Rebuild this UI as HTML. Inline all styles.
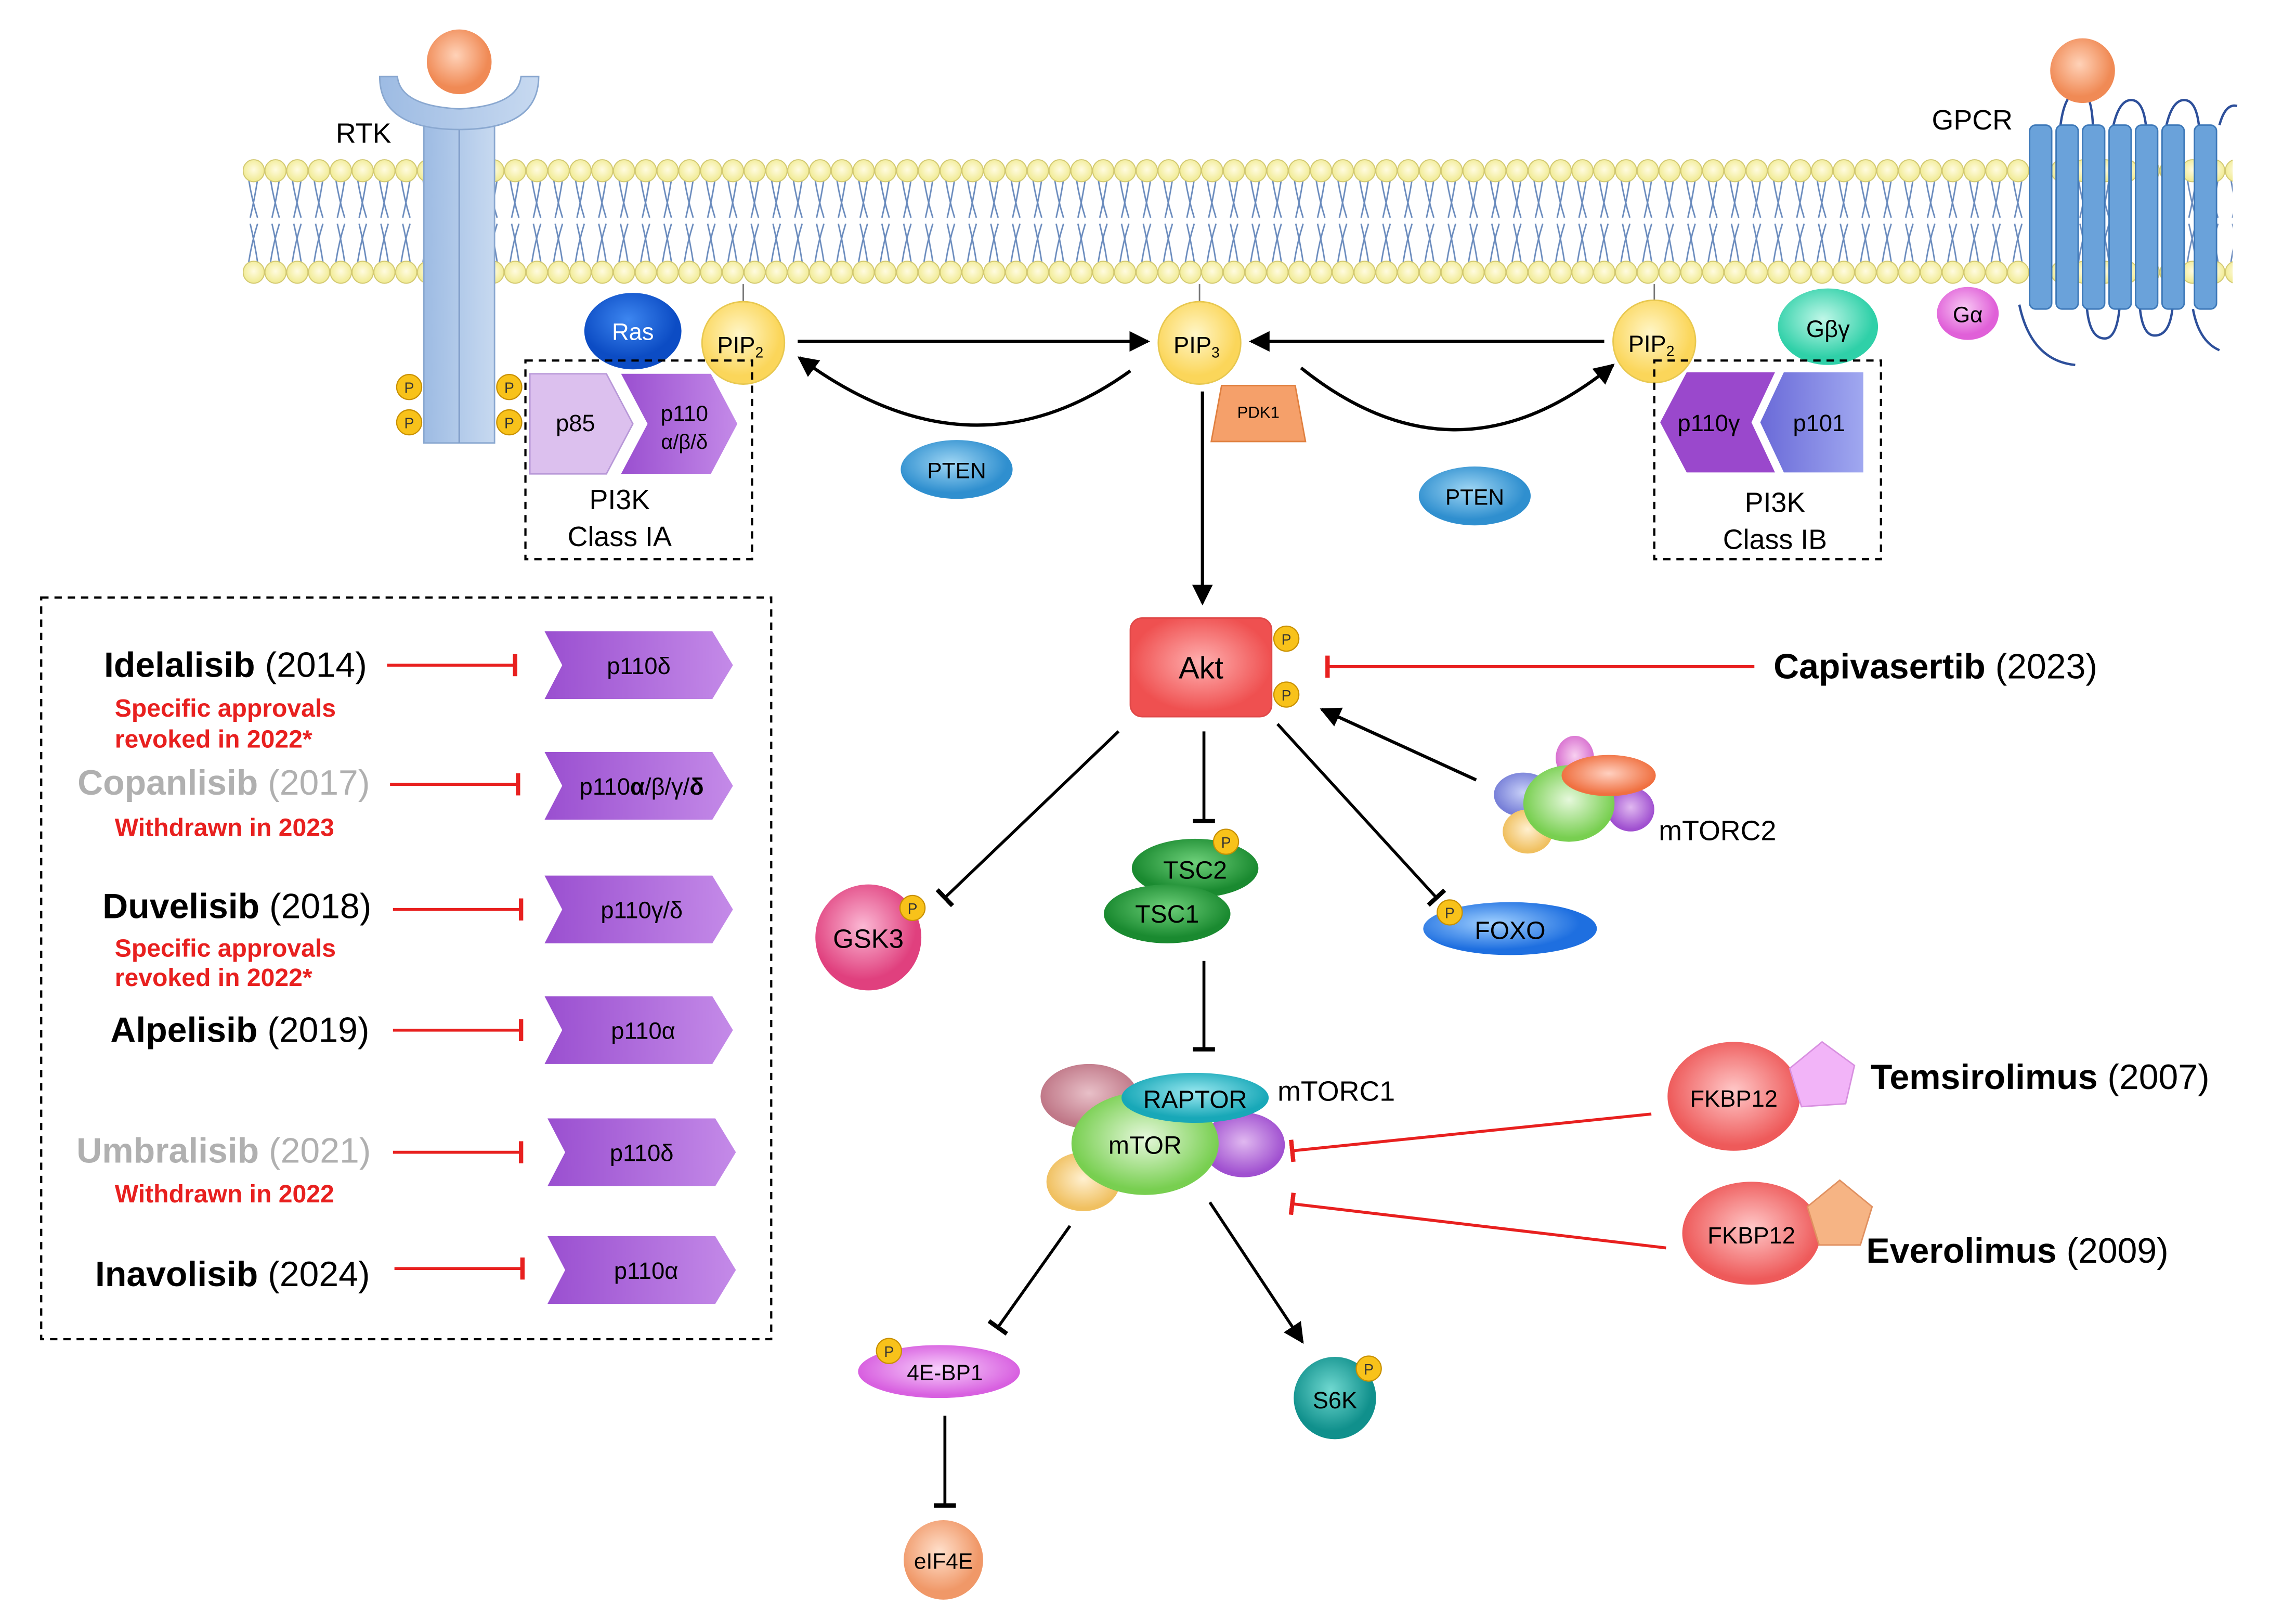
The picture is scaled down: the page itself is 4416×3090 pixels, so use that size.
<!DOCTYPE html>
<html><head><meta charset="utf-8"><style>
html,body{margin:0;padding:0;background:#fff;}
svg{display:block;}
text{font-family:"Liberation Sans",Arial,sans-serif;}
</style></head><body>
<svg width="4416" height="3090" viewBox="0 0 1560 1092" preserveAspectRatio="none" xmlns="http://www.w3.org/2000/svg">
<defs>
<radialGradient id="yh" cx="50%" cy="45%" r="60%"><stop offset="0" stop-color="#fffbe0"/><stop offset="1" stop-color="#efe98a"/></radialGradient>
<pattern id="lip" patternUnits="userSpaceOnUse" x="165" y="100" width="14.8" height="100">
<path d="M4,22 Q6,35 10,48 M10,22 Q8,35 5,48 M4,78 Q6,65 10,52 M10,78 Q8,65 5,52" stroke="#6a8bbd" stroke-width="1" fill="none"/>
<ellipse cx="7.4" cy="16" rx="7.2" ry="7.5" fill="url(#yh)" stroke="#d2c870" stroke-width="0.7"/>
<ellipse cx="7.4" cy="85" rx="7.2" ry="7.5" fill="url(#yh)" stroke="#d2c870" stroke-width="0.7"/>
</pattern>
<linearGradient id="rtk" x1="0" x2="1"><stop offset="0" stop-color="#9dbbe3"/><stop offset="1" stop-color="#c7d9f0"/></linearGradient>
<radialGradient id="org" cx="45%" cy="40%"><stop offset="0" stop-color="#ffd2b8"/><stop offset="1" stop-color="#f08a55"/></radialGradient>
<radialGradient id="pip" cx="45%" cy="40%"><stop offset="0" stop-color="#fff6c8"/><stop offset="1" stop-color="#fbd65a"/></radialGradient>
<radialGradient id="ras" cx="45%" cy="35%"><stop offset="0" stop-color="#3d86f0"/><stop offset="1" stop-color="#0c4cc4"/></radialGradient>
<radialGradient id="pten" cx="45%" cy="40%"><stop offset="0" stop-color="#9fd6f4"/><stop offset="1" stop-color="#2f8fcf"/></radialGradient>
<radialGradient id="gbg" cx="45%" cy="40%"><stop offset="0" stop-color="#c0f7e8"/><stop offset="1" stop-color="#2fd0a8"/></radialGradient>
<radialGradient id="ga" cx="45%" cy="40%"><stop offset="0" stop-color="#f8c8f4"/><stop offset="1" stop-color="#e060d8"/></radialGradient>
<radialGradient id="akt" cx="50%" cy="45%"><stop offset="0" stop-color="#ffb0b0"/><stop offset="1" stop-color="#ef5050"/></radialGradient>
<radialGradient id="gsk" cx="45%" cy="40%"><stop offset="0" stop-color="#fbb8d4"/><stop offset="1" stop-color="#e0407e"/></radialGradient>
<radialGradient id="tsc" cx="50%" cy="40%"><stop offset="0" stop-color="#6ed07a"/><stop offset="1" stop-color="#1a8a30"/></radialGradient>
<radialGradient id="foxo" cx="40%" cy="40%"><stop offset="0" stop-color="#a0d0ff"/><stop offset="1" stop-color="#1e6fe0"/></radialGradient>
<radialGradient id="grn" cx="50%" cy="45%"><stop offset="0" stop-color="#e6f8dc"/><stop offset="1" stop-color="#78cf50"/></radialGradient>
<radialGradient id="rap" cx="50%" cy="40%"><stop offset="0" stop-color="#9ae8f0"/><stop offset="1" stop-color="#18a8b8"/></radialGradient>
<radialGradient id="pur" cx="50%" cy="45%"><stop offset="0" stop-color="#e0b8f0"/><stop offset="1" stop-color="#a050d0"/></radialGradient>
<radialGradient id="yel" cx="50%" cy="45%"><stop offset="0" stop-color="#fff0d0"/><stop offset="1" stop-color="#f0c060"/></radialGradient>
<radialGradient id="mau" cx="50%" cy="45%"><stop offset="0" stop-color="#e8c0c8"/><stop offset="1" stop-color="#c07888"/></radialGradient>
<radialGradient id="blu" cx="50%" cy="45%"><stop offset="0" stop-color="#c8d0f8"/><stop offset="1" stop-color="#7880d8"/></radialGradient>
<radialGradient id="orr" cx="50%" cy="45%"><stop offset="0" stop-color="#ffd0c0"/><stop offset="1" stop-color="#f07040"/></radialGradient>
<radialGradient id="pnk" cx="50%" cy="45%"><stop offset="0" stop-color="#f8d0f0"/><stop offset="1" stop-color="#d870d0"/></radialGradient>
<radialGradient id="fkbp" cx="50%" cy="45%"><stop offset="0" stop-color="#ffc8c8"/><stop offset="1" stop-color="#ee5a5a"/></radialGradient>
<radialGradient id="ebp" cx="50%" cy="45%"><stop offset="0" stop-color="#f8d0fc"/><stop offset="1" stop-color="#d860e0"/></radialGradient>
<radialGradient id="s6k" cx="45%" cy="40%"><stop offset="0" stop-color="#70d8d0"/><stop offset="1" stop-color="#10908c"/></radialGradient>
<radialGradient id="eif" cx="45%" cy="40%"><stop offset="0" stop-color="#ffe0cc"/><stop offset="1" stop-color="#f09868"/></radialGradient>
<linearGradient id="chev" x1="0" x2="1"><stop offset="0" stop-color="#9a4fd0"/><stop offset="1" stop-color="#c48ae8"/></linearGradient>
<linearGradient id="p101" x1="0" x2="1"><stop offset="0" stop-color="#6a6ad8"/><stop offset="1" stop-color="#a0a8f0"/></linearGradient>
<marker id="arb" viewBox="0 0 10 10" refX="9" refY="5" markerWidth="14" markerHeight="14" markerUnits="userSpaceOnUse" orient="auto"><path d="M0,0 L10,5 L0,10 z" fill="#000"/></marker>
<marker id="bar" viewBox="0 0 4 20" refX="2" refY="10" markerWidth="3" markerHeight="18" markerUnits="userSpaceOnUse" orient="auto"><rect x="0" y="0" width="4" height="20" fill="#000"/></marker>
<marker id="rbar" viewBox="0 0 4 20" refX="2" refY="10" markerWidth="3" markerHeight="18" markerUnits="userSpaceOnUse" orient="auto"><rect x="0" y="0" width="4" height="20" fill="#e8201f"/></marker>
<g id="P"><circle r="8.5" fill="#f8c21a" stroke="#c89000" stroke-width="0.8"/><text y="4" text-anchor="middle" font-size="10" fill="#333">P</text></g>
</defs>

<!-- membrane -->
<rect x="165" y="100" width="1352" height="100" fill="url(#lip)"/>

<!-- RTK -->
<rect x="288" y="85" width="48" height="216" fill="url(#rtk)" stroke="#8aa8d0" stroke-width="1"/>
<line x1="312" y1="85" x2="312" y2="301" stroke="#7f9cc8" stroke-width="1"/>
<path d="M258,52 Q258,88 312,88 Q366,88 366,52 L354,52 Q352,72 312,74 Q272,72 270,52 Z" fill="url(#rtk)" stroke="#8aa8d0"/>
<circle cx="312" cy="42" r="22" fill="url(#org)"/>
<text x="247" y="97" font-size="19" text-anchor="middle">RTK</text>
<use href="#P" x="278" y="263"/><use href="#P" x="278" y="287"/><use href="#P" x="346" y="263"/><use href="#P" x="346" y="287"/>

<!-- GPCR -->
<path d="M1372,207 Q1380,245 1410,248 M1400,85 Q1403,62 1413,62 Q1421,62 1422,85 M1436,85 Q1440,68 1448,68 Q1456,68 1458,85 M1472,85 Q1476,68 1484,68 Q1492,68 1494,85 M1508,85 Q1512,70 1520,72 M1418,210 Q1420,230 1430,230 Q1438,230 1440,210 M1454,210 Q1456,228 1464,228 Q1474,228 1476,210 M1490,210 Q1494,232 1508,238" stroke="#2d4f9a" stroke-width="1.6" fill="none"/>
<g fill="#6aa2da" stroke="#3d78b8" stroke-width="1">
<rect x="1379" y="85" width="15" height="125" rx="4"/><rect x="1397" y="85" width="15" height="125" rx="4"/><rect x="1415" y="85" width="15" height="125" rx="4"/><rect x="1433" y="85" width="15" height="125" rx="4"/><rect x="1451" y="85" width="15" height="125" rx="4"/><rect x="1469" y="85" width="15" height="125" rx="4"/><rect x="1491" y="85" width="15" height="125" rx="4"/>
</g>
<circle cx="1415" cy="48" r="22" fill="url(#org)"/>
<text x="1340" y="88" font-size="19" text-anchor="middle">GPCR</text>
<ellipse cx="1337" cy="213" rx="21" ry="18" fill="url(#ga)"/>
<text x="1337" y="219" font-size="15" text-anchor="middle">Gα</text>
<ellipse cx="1242" cy="222" rx="34" ry="26" fill="url(#gbg)"/>
<text x="1242" y="229" font-size="16" text-anchor="middle">Gβγ</text>

<!-- PIPs -->
<line x1="505" y1="193" x2="505" y2="205" stroke="#777"/>
<line x1="815" y1="193" x2="815" y2="205" stroke="#777"/>
<line x1="1124" y1="193" x2="1124" y2="204" stroke="#777"/>
<ellipse cx="430" cy="225" rx="33" ry="26" fill="url(#ras)"/>
<text x="430" y="231" font-size="16" text-anchor="middle" fill="#fff">Ras</text>
<circle cx="505" cy="233" r="28" fill="url(#pip)" stroke="#e8c850"/>
<text x="503" y="240" font-size="16" text-anchor="middle">PIP<tspan font-size="10" dy="3">2</tspan></text>
<circle cx="815" cy="233" r="28" fill="url(#pip)" stroke="#e8c850"/>
<text x="813" y="240" font-size="16" text-anchor="middle">PIP<tspan font-size="10" dy="3">3</tspan></text>
<circle cx="1124" cy="232" r="28" fill="url(#pip)" stroke="#e8c850"/>
<text x="1122" y="239" font-size="16" text-anchor="middle">PIP<tspan font-size="10" dy="3">2</tspan></text>

<!-- Class IA -->
<rect x="357" y="245" width="154" height="135" fill="none" stroke="#000" stroke-width="1.5" stroke-dasharray="5,4"/>
<path d="M360,254 L412,254 L430,288 L412,322 L360,322 Z" fill="#dcc0ee" stroke="#b898d8"/>
<path d="M422,254 L483,254 L501,288 L483,322 L422,322 L440,288 Z" fill="url(#chev)"/>
<text x="391" y="293" font-size="16" text-anchor="middle">p85</text>
<text x="465" y="286" font-size="15" text-anchor="middle">p110</text>
<text x="465" y="305" font-size="14" text-anchor="middle">α/β/δ</text>
<text x="421" y="346" font-size="19" text-anchor="middle">PI3K</text>
<text x="421" y="371" font-size="19" text-anchor="middle">Class IA</text>

<!-- Class IB -->
<rect x="1124" y="245" width="154" height="135" fill="none" stroke="#000" stroke-width="1.5" stroke-dasharray="5,4"/>
<path d="M1146,253 L1206,253 L1190,287 L1206,321 L1146,321 L1128,287 Z" fill="#9a48cc"/>
<path d="M1212,253 L1266,253 L1266,321 L1212,321 L1196,287 Z" fill="url(#p101)"/>
<text x="1161" y="293" font-size="16" text-anchor="middle">p110γ</text>
<text x="1236" y="293" font-size="16" text-anchor="middle">p101</text>
<text x="1206" y="348" font-size="19" text-anchor="middle">PI3K</text>
<text x="1206" y="373" font-size="19" text-anchor="middle">Class IB</text>

<!-- PIP arrows -->
<g stroke="#000" stroke-width="2.2" fill="none">
<line x1="542" y1="232" x2="780" y2="232" marker-end="url(#arb)"/>
<line x1="1090" y1="232" x2="850" y2="232" marker-end="url(#arb)"/>
<path d="M768,252 Q660,330 543,243" marker-end="url(#arb)"/>
<path d="M884,250 Q990,335 1096,248" marker-end="url(#arb)"/>
<line x1="817" y1="266" x2="817" y2="410" marker-end="url(#arb)"/>
</g>
<ellipse cx="650" cy="319" rx="38" ry="20" fill="url(#pten)"/>
<text x="650" y="325" font-size="15" text-anchor="middle">PTEN</text>
<ellipse cx="1002" cy="337" rx="38" ry="20" fill="url(#pten)"/>
<text x="1002" y="343" font-size="15" text-anchor="middle">PTEN</text>
<path d="M830,262 L880,262 L887,300 L823,300 Z" fill="#f5a06a" stroke="#e08040"/>
<text x="855" y="284" font-size="11" text-anchor="middle">PDK1</text>

<!-- Akt -->
<rect x="768" y="420" width="96" height="67" rx="8" fill="url(#akt)" stroke="#e04848"/>
<text x="816" y="461" font-size="21" text-anchor="middle">Akt</text>
<use href="#P" x="874" y="434"/><use href="#P" x="874" y="472"/>
<line x1="1192" y1="453" x2="902" y2="453" stroke="#e8201f" stroke-width="2" marker-end="url(#rbar)"/>
<text x="1205" y="461" font-size="24"><tspan font-weight="bold">Capivasertib</tspan> (2023)</text>

<!-- mTORC2 -->
<line x1="1003" y1="530" x2="898" y2="482" stroke="#000" stroke-width="2.2" marker-end="url(#arb)"/>
<ellipse cx="1070" cy="515" rx="13" ry="15" fill="url(#pnk)"/>
<ellipse cx="1035" cy="540" rx="20" ry="15" fill="url(#blu)"/>
<ellipse cx="1038" cy="565" rx="17" ry="15" fill="url(#yel)"/>
<ellipse cx="1108" cy="550" rx="16" ry="15" fill="url(#pur)"/>
<ellipse cx="1066" cy="546" rx="31" ry="26" fill="url(#grn)"/>
<ellipse cx="1093" cy="527" rx="32" ry="14" fill="url(#orr)"/>
<text x="1127" y="571" font-size="19">mTORC2</text>

<!-- Akt targets -->
<g stroke="#000" stroke-width="2" fill="none">
<line x1="760" y1="497" x2="642" y2="610" marker-end="url(#bar)"/>
<line x1="818" y1="497" x2="818" y2="558" marker-end="url(#bar)"/>
<line x1="868" y1="492" x2="976" y2="610" marker-end="url(#bar)"/>
<line x1="818" y1="653" x2="818" y2="713" marker-end="url(#bar)"/>
<line x1="727" y1="833" x2="678" y2="902" marker-end="url(#bar)"/>
<line x1="822" y1="817" x2="885" y2="912" marker-end="url(#arb)"/>
<line x1="642" y1="962" x2="642" y2="1023" marker-end="url(#bar)"/>
</g>
<circle cx="590" cy="637" r="36" fill="url(#gsk)"/>
<text x="590" y="644" font-size="18" text-anchor="middle">GSK3</text>
<use href="#P" x="620" y="617"/>
<ellipse cx="812" cy="590" rx="43" ry="20" fill="url(#tsc)"/>
<text x="812" y="597" font-size="17" text-anchor="middle">TSC2</text>
<ellipse cx="793" cy="621" rx="43" ry="20" fill="url(#tsc)"/>
<text x="793" y="627" font-size="17" text-anchor="middle">TSC1</text>
<use href="#P" x="833" y="572"/>
<ellipse cx="1026" cy="631" rx="59" ry="18" fill="url(#foxo)"/>
<text x="1026" y="638" font-size="17" text-anchor="middle">FOXO</text>
<use href="#P" x="985" y="620"/>

<!-- mTORC1 -->
<ellipse cx="740" cy="745" rx="33" ry="22" fill="url(#mau)"/>
<ellipse cx="736" cy="803" rx="25" ry="20" fill="url(#yel)"/>
<ellipse cx="845" cy="778" rx="28" ry="22" fill="url(#pur)"/>
<ellipse cx="778" cy="777" rx="50" ry="35" fill="url(#grn)"/>
<ellipse cx="812" cy="746" rx="50" ry="17" fill="url(#rap)"/>
<text x="812" y="753" font-size="17" text-anchor="middle">RAPTOR</text>
<text x="778" y="784" font-size="17" text-anchor="middle">mTOR</text>
<text x="868" y="748" font-size="19">mTORC1</text>

<!-- Rapalogs -->
<line x1="1122" y1="757" x2="878" y2="782" stroke="#e8201f" stroke-width="2" marker-end="url(#rbar)"/>
<line x1="1132" y1="848" x2="878" y2="818" stroke="#e8201f" stroke-width="2" marker-end="url(#rbar)"/>
<ellipse cx="1178" cy="745" rx="45" ry="37" fill="url(#fkbp)"/>
<polygon points="1238,708 1260,724 1254,750 1224,752 1216,726" fill="#f2b4f8" stroke="#d890e0"/>
<text x="1178" y="752" font-size="16" text-anchor="middle">FKBP12</text>
<text x="1271" y="740" font-size="24"><tspan font-weight="bold">Temsirolimus</tspan> (2007)</text>
<ellipse cx="1190" cy="838" rx="47" ry="35" fill="url(#fkbp)"/>
<polygon points="1250,802 1272,820 1264,846 1236,846 1228,820" fill="#f6b484" stroke="#e09060"/>
<text x="1190" y="845" font-size="16" text-anchor="middle">FKBP12</text>
<text x="1268" y="858" font-size="24"><tspan font-weight="bold">Everolimus</tspan> (2009)</text>

<!-- downstream -->
<ellipse cx="638" cy="932" rx="55" ry="18" fill="url(#ebp)"/>
<text x="642" y="938" font-size="15" text-anchor="middle">4E-BP1</text>
<use href="#P" x="604" y="918"/>
<circle cx="907" cy="950" r="28" fill="url(#s6k)"/>
<text x="907" y="957" font-size="16" text-anchor="middle">S6K</text>
<use href="#P" x="930" y="930"/>
<circle cx="641" cy="1060" r="27" fill="url(#eif)"/>
<text x="641" y="1066" font-size="15" text-anchor="middle">eIF4E</text>

<!-- left box -->
<rect x="28" y="406" width="496" height="504" fill="none" stroke="#000" stroke-width="1.5" stroke-dasharray="5,4"/>
<g font-size="24" text-anchor="middle">
<text x="160" y="460"><tspan font-weight="bold">Idelalisib</tspan> (2014)</text>
<text x="152" y="540" fill="#b0b0b0"><tspan font-weight="bold">Copanlisib</tspan> (2017)</text>
<text x="161" y="624"><tspan font-weight="bold">Duvelisib</tspan> (2018)</text>
<text x="163" y="708"><tspan font-weight="bold">Alpelisib</tspan> (2019)</text>
<text x="152" y="790" fill="#b0b0b0"><tspan font-weight="bold">Umbralisib</tspan> (2021)</text>
<text x="158" y="874"><tspan font-weight="bold">Inavolisib</tspan> (2024)</text>
</g>
<g font-size="17" font-weight="bold" fill="#e8201f">
<text x="78" y="487">Specific approvals</text>
<text x="78" y="508">revoked in 2022*</text>
<text x="78" y="568">Withdrawn in 2023</text>
<text x="78" y="650">Specific approvals</text>
<text x="78" y="670">revoked in 2022*</text>
<text x="78" y="817">Withdrawn in 2022</text>
</g>
<g stroke="#e8201f" stroke-width="2">
<line x1="263" y1="452" x2="350" y2="452" marker-end="url(#rbar)"/>
<line x1="265" y1="533" x2="352" y2="533" marker-end="url(#rbar)"/>
<line x1="267" y1="618" x2="354" y2="618" marker-end="url(#rbar)"/>
<line x1="267" y1="700" x2="354" y2="700" marker-end="url(#rbar)"/>
<line x1="267" y1="783" x2="354" y2="783" marker-end="url(#rbar)"/>
<line x1="268" y1="862" x2="355" y2="862" marker-end="url(#rbar)"/>
</g>
<g fill="url(#chev)">
<path d="M370,429 L484,429 L498,452 L484,475 L370,475 L382,452 Z"/>
<path d="M370,511 L484,511 L498,534 L484,557 L370,557 L382,534 Z"/>
<path d="M370,595 L484,595 L498,618 L484,641 L370,641 L382,618 Z"/>
<path d="M370,677 L484,677 L498,700 L484,723 L370,723 L382,700 Z"/>
<path d="M372,760 L486,760 L500,783 L486,806 L372,806 L384,783 Z"/>
<path d="M372,840 L486,840 L500,863 L486,886 L372,886 L384,863 Z"/>
</g>
<g font-size="16" text-anchor="middle">
<text x="434" y="458">p110δ</text>
<text x="436" y="540">p110<tspan font-weight="bold">α</tspan>/β/γ/<tspan font-weight="bold">δ</tspan></text>
<text x="436" y="624">p110γ/δ</text>
<text x="437" y="706">p110α</text>
<text x="436" y="789">p110δ</text>
<text x="439" y="869">p110α</text>
</g>
</svg>
</body></html>
